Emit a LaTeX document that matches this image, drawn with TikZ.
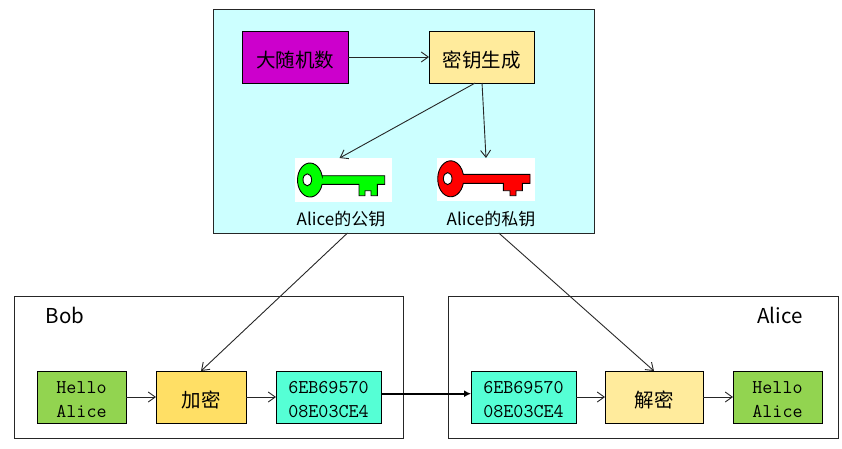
\documentclass[tikz,border=0pt]{standalone}
\usepackage{fontspec}
\usepackage{tikz}
\usepackage{xcolor}
\usetikzlibrary{arrows.meta,positioning,calc}
\newfontfamily\cjk{Noto Sans CJK SC}
\definecolor{panelCyan}{HTML}{CCFFFF}
\definecolor{randPurple}{HTML}{CC00CC}
\definecolor{genYellow}{HTML}{FFEB9C}
\definecolor{encYellow}{HTML}{FFDF65}
\definecolor{plainGreen}{HTML}{92D450}
\definecolor{cipherTeal}{HTML}{55FFD5}
\begin{document}
\begin{tikzpicture}[
    x=1pt, y=-1pt,
    panel/.style={draw=black!85, line width=1pt, anchor=north west, inner sep=0pt, outer sep=0pt},
    boxbase/.style={draw=black, line width=0.9pt, minimum height=52pt, inner sep=0pt, outer sep=0pt, align=center},
    box/.style={boxbase, font=\cjk\fontsize{19.5}{24}\selectfont, execute at begin node={\rule{0pt}{22pt}}},
    msg/.style={boxbase, font=\ttfamily\fontsize{19.5}{24}\selectfont, execute at begin node={\rule{0pt}{42pt}}},
    keybg/.style={fill=white, inner sep=0pt, outer sep=0pt, anchor=north west},
    keylabel/.style={font=\cjk\fontsize{17}{21}\selectfont},
    owner/.style={font=\cjk\fontsize{20.5}{25}\selectfont},
    arr/.style={-{Straight Barb[length=7pt,width=10pt]}, line width=0.9pt, draw=black!85},
    keyline/.style={draw=black, line width=0.9pt}
]
\useasboundingbox (0,0) rectangle (842,448);

% key server
\node[panel, fill=panelCyan, minimum width=381pt, minimum height=224pt] (server) at (213,9) {};
\node[box, fill=randPurple, minimum width=106pt, anchor=north west] (rand) at (242,31) {大随机数};
\node[box, fill=genYellow, minimum width=105pt, right=81pt of rand] (gen) {密钥生成};
\node[keybg, minimum width=97pt, minimum height=44pt] (pubkey) at (295,158) {};
\node[keybg, minimum width=98pt, minimum height=43pt] (privkey) at (437,158) {};
\node[keylabel] (publabel) at (341,219) {Alice的公钥};
\node[keylabel] (privlabel) at (491,219) {Alice的私钥};

% green key
\draw[keyline, fill=green] (322.1,175.7) -- (384.7,175.7) -- (384.7,184.3) -- (377.3,184.3)
    -- (377.3,195.7) -- (371,195.7) -- (371,190.7) -- (365,190.7) -- (365,195.7) -- (359,195.7)
    -- (359,184.3) -- (322.1,184.3) arc[start angle=14.6, end angle=345.4, x radius=12.5, y radius=17] -- cycle;
\draw[keyline, fill=white] (307.3,179.8) ellipse[x radius=4.3, y radius=6];
% red key
\draw[keyline, fill=red] (463.3,174.3) -- (530,174.3) -- (530,183.3) -- (522.3,183.3) -- (522.3,190.7)
    -- (516,190.7) -- (516,195.7) -- (510,195.7) -- (510,190.7) -- (503.3,190.7) -- (503.3,183.3)
    -- (463.3,183.3) arc[start angle=14.5, end angle=345.5, x radius=13, y radius=18] -- cycle;
\draw[keyline, fill=white] (447.7,178.6) ellipse[x radius=4.3, y radius=6];

% Bob
\node[panel, minimum width=389pt, minimum height=142pt] (bob) at (14,296) {};
\node[owner] (bobname) at (65,315) {Bob};
\node[msg, fill=plainGreen, minimum width=89pt, anchor=north west] (hello) at (37,371) {Hello\\Alice};
\node[box, fill=encYellow, minimum width=90pt, right=30pt of hello] (enc) {加密};
\node[msg, fill=cipherTeal, minimum width=105pt, right=30pt of enc] (cipher) {6EB69570\\08E03CE4};

% Alice
\node[panel, minimum width=390pt, minimum height=142pt] (alice) at (448,296) {};
\node[owner] (alicename) at (780,315) {Alice};
\node[msg, fill=cipherTeal, minimum width=105pt, anchor=north west] (recv) at (471,371) {6EB69570\\08E03CE4};
\node[box, fill=genYellow, minimum width=98pt, right=29pt of recv] (dec) {解密};
\node[msg, fill=plainGreen, minimum width=89pt, right=30pt of dec] (plain) {Hello\\Alice};

\draw[arr] (rand) -- (gen);
\draw[arr] ($(gen.south west)!0.44!(gen.south east)$) -- ($(pubkey.north west)!0.46!(pubkey.north east)$);
\draw[arr] ($(gen.south west)!0.505!(gen.south east)$) -- ($(privkey.north west)!0.5!(privkey.north east)$);
\draw[arr] ($(server.south west)!0.353!(server.south east)$) -- (enc.north);
\draw[arr] ($(server.south west)!0.75!(server.south east)$) -- (dec.north);
\draw[arr] (hello) -- (enc);
\draw[arr] (enc) -- (cipher);
\draw[arr] (recv) -- (dec);
\draw[arr] (dec) -- (plain);
\draw[-{Latex[length=7pt,width=7pt]}, line width=2.2pt] ($(cipher.east)+(0,-3.3)$) -- ($(recv.west)+(0,-3.3)$);
\end{tikzpicture}
\end{document}
